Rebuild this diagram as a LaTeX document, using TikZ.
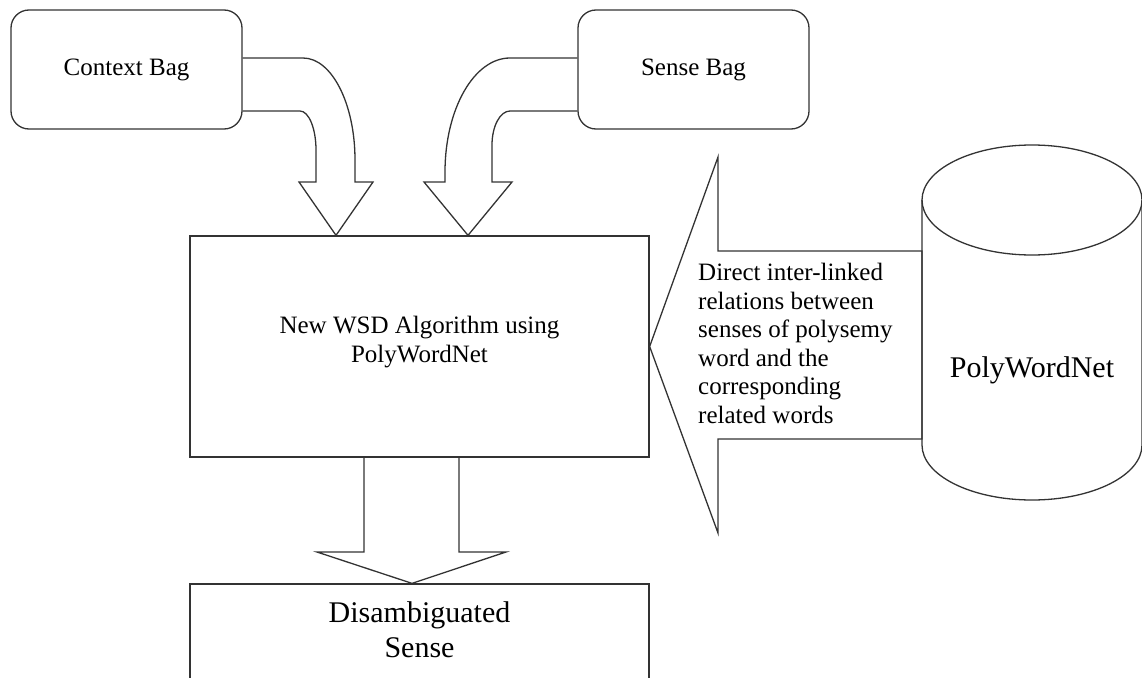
\documentclass[tikz,border=0pt]{standalone}
\usepackage{fontspec}
\setmainfont{Liberation Serif}
\begin{document}
\begin{tikzpicture}[x=1pt,y=-1pt,
  outline/.style={draw=black!80, line width=1.3pt},
  bagbox/.style={outline, rounded corners=18pt, minimum width=231pt, minimum height=119pt,
    inner sep=0pt, font=\fontsize{25}{29}\selectfont},
  plainbox/.style={outline, inner sep=0pt},
  txt/.style={inner sep=0pt, align=center, font=\fontsize{25}{29}\selectfont},
  bigtxt/.style={inner sep=0pt, align=center, font=\fontsize{30}{35}\selectfont},
  reltxt/.style={inner sep=0pt, align=left, font=\fontsize{25}{28.6}\selectfont},
]
\useasboundingbox (0,0) rectangle (1142,677);

% input bags
\node[bagbox] (ctx) at (126.5,69.5) {Context Bag};
\node[bagbox] (sense) at (693.5,69.5) {Sense Bag};

% algorithm box
\node[plainbox, minimum width=459pt, minimum height=221pt] (algo) at (419.5,346.5) {};
\node[txt] (algotext) at (419.5,341.6) {New WSD Algorithm using\\PolyWordNet};

% output box (runs past the lower edge)
\node[plainbox, minimum width=459pt, minimum height=136pt] (out) at (419.5,652) {};
\node[bigtxt, anchor=north] (outtext) at (419.5,601.5) {Disambiguated\\Sense};

% PolyWordNet database cylinder
\draw[outline] (922,200) -- (922,445) arc[start angle=180, end angle=0, x radius=110, y radius=55] -- (1142,200);
\draw[outline] (1032,200) ellipse [x radius=110, y radius=55];
\node[bigtxt, anchor=base] (db) at (1032,377) {PolyWordNet};

% bent block arrow from the context bag
\draw[outline] (ctx.east |- 0,58) -- (303,58)
  .. controls (331.7,58) and (355,103.7) .. (355,160) -- (355,182) -- (373,182)
  -- (336,0 |- algo.north) -- (299,182) -- (316,182) -- (316,150)
  .. controls (316,128.5) and (308.8,111) .. (300,111) -- (ctx.east |- 0,111);

% bent block arrow from the sense bag
\draw[outline] (sense.west |- 0,58) -- (510,58)
  .. controls (474.1,58) and (445,109) .. (445,172) -- (445,182) -- (424,182)
  -- (468,0 |- algo.north) -- (512,182) -- (492,182) -- (492,145)
  .. controls (492,126.2) and (500.1,111) .. (510,111) -- (sense.west |- 0,111);

% block arrow from the database into the algorithm
\draw[outline] (algo.east) -- (718,157) -- (718,251) -- (922,251) -- (922,439)
  -- (718,439) -- (718,533) -- cycle;
\node[reltxt, anchor=north west] (rel) at (698,262.9)
  {Direct inter-linked\\relations between\\senses of polysemy\\word and the\\corresponding\\related words};

% block arrow down to the output
\draw[outline] (364,0 |- algo.south) -- (364,552) -- (317,552) -- (412,0 |- out.north)
  -- (506,552) -- (459,552) -- (459,0 |- algo.south);
\end{tikzpicture}
\end{document}
